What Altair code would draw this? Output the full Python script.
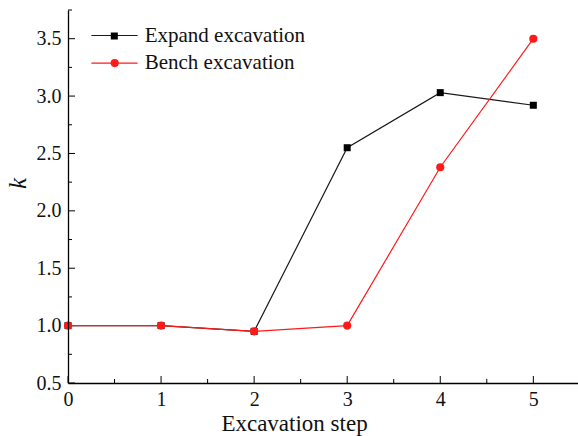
import altair as alt
import pandas as pd

# Excavation steps and the k values of the two schemes
steps = [0, 1, 2, 3, 4, 5]
expand_k = [1.00, 1.00, 0.95, 2.55, 3.03, 2.92]
bench_k = [1.00, 1.00, 0.95, 1.00, 2.38, 3.50]

series_names = ["Expand excavation", "Bench excavation"]
marker_colors = ["#000000", "#ff1a1a"]
line_colors = ["#1a1a1a", "#ff1a1a"]

# Tick positions (major ticks are labelled)
y_major = [0.5, 1.0, 1.5, 2.0, 2.5, 3.0, 3.5]
y_minor = [0.75, 1.25, 1.75, 2.25, 2.75, 3.25, 3.75]
x_major = [0, 1, 2, 3, 4, 5]
x_minor = [0.5, 1.5, 2.5, 3.5, 4.5]

W, H = 510, 373
FONT = "Liberation Serif"
INK = "#111111"

df = pd.DataFrame({
    "step": steps + steps,
    "k": expand_k + bench_k,
    "series": [series_names[0]] * len(steps) + [series_names[1]] * len(steps),
})

x_scale = alt.Scale(domain=[0, 5.48], nice=False, zero=False)
y_scale = alt.Scale(domain=[0.5, 3.75], nice=False, zero=False)

x_axis = alt.Axis(
    values=x_major, format="d", title="Excavation step",
    titleFont=FONT, titleFontSize=23, titleFontWeight="normal",
    titleX=226, titleY=47, titleBaseline="alphabetic", titleAlign="center",
    labelFont=FONT, labelFontSize=20, labelPadding=6,
    labelOverlap=False, labelFlush=False,
    ticks=False, grid=False, domainColor="black", domainWidth=1.3, zindex=1,
)
y_axis = alt.Axis(
    values=y_major, format=".1f", title="k",
    titleFont=FONT, titleFontSize=25, titleFontStyle="italic",
    titleFontWeight="normal", titleX=-51, titleY=173,
    titleAlign="center", titleBaseline="middle",
    labelFont=FONT, labelFontSize=20, labelPadding=7,
    labelOverlap=False, labelFlush=False,
    ticks=False, grid=False, domainColor="black", domainWidth=1.3, zindex=1,
)

# Legend of the line strokes, with the series names
line_legend = alt.Legend(
    title=None, orient="none", legendX=36, legendY=15, padding=0,
    symbolType="M-3.3,0H3.3", symbolSize=196, symbolStrokeWidth=1.2,
    labelFont=FONT, labelFontSize=21, labelColor=INK, labelOffset=19.7,
    labelLimit=400, rowPadding=5.6,
)

# Marker legends, one per series, laid over the middle of each stroke
def marker_legend(shape, size, x, y):
    return alt.Legend(
        title=None, orient="none", legendX=x, legendY=y, padding=0,
        symbolType=shape, symbolSize=size, symbolStrokeWidth=0,
        labelExpr="''", labelFontSize=1, labelOffset=0,
    )

lines = alt.Chart(df).transform_calculate(
    series_line="datum.series"
).mark_line(strokeWidth=1.2).encode(
    x=alt.X("step:Q", scale=x_scale, axis=x_axis),
    y=alt.Y("k:Q", scale=y_scale, axis=y_axis),
    stroke=alt.Stroke("series_line:N", sort=series_names,
                      scale=alt.Scale(range=line_colors),
                      legend=line_legend),
)

expand_points = alt.Chart(df).transform_filter(
    alt.datum.series == series_names[0]
).mark_point(shape="square", filled=True, opacity=1, size=49).encode(
    x=alt.X("step:Q", scale=x_scale, axis=x_axis),
    y=alt.Y("k:Q", scale=y_scale, axis=y_axis),
    color=alt.Color("series:N", scale=alt.Scale(range=[marker_colors[0]]),
                    legend=marker_legend("square", 49, 42.8, 22.5)),
)

bench_points = alt.Chart(df).transform_filter(
    alt.datum.series == series_names[1]
).mark_point(shape="circle", filled=True, opacity=1, size=66).encode(
    x=alt.X("step:Q", scale=x_scale, axis=x_axis),
    y=alt.Y("k:Q", scale=y_scale, axis=y_axis),
    fill=alt.Fill("series:N", scale=alt.Scale(range=[marker_colors[1]]),
                  legend=marker_legend("circle", 66, 42.2, 48.6)),
)

# Inward-pointing tick marks
def y_ticks(values, length):
    return alt.Chart(pd.DataFrame({"k": values})).mark_rule(
        color="black", strokeWidth=1).encode(
        y=alt.Y("k:Q", scale=y_scale, axis=y_axis),
        x=alt.value(0), x2=alt.value(length))

def x_ticks(values, length):
    return alt.Chart(pd.DataFrame({"step": values})).mark_rule(
        color="black", strokeWidth=1).encode(
        x=alt.X("step:Q", scale=x_scale, axis=x_axis),
        y=alt.value(H), y2=alt.value(H - length))

chart = alt.layer(
    y_ticks(y_major, 7), y_ticks(y_minor, 4),
    x_ticks(x_major, 7), x_ticks(x_minor, 4),
    lines, expand_points, bench_points,
).properties(
    width=W, height=H,
    autosize=alt.AutoSizeParams(type="none"),
    padding={"left": 68, "top": 10, "right": 0, "bottom": 53},
).configure_view(stroke=None).configure_axis(
    labelFont=FONT, titleFont=FONT, labelColor=INK, titleColor=INK,
).configure_legend(labelFont=FONT)

chart.save("out.html", embed_options={"renderer": "svg", "actions": False})
